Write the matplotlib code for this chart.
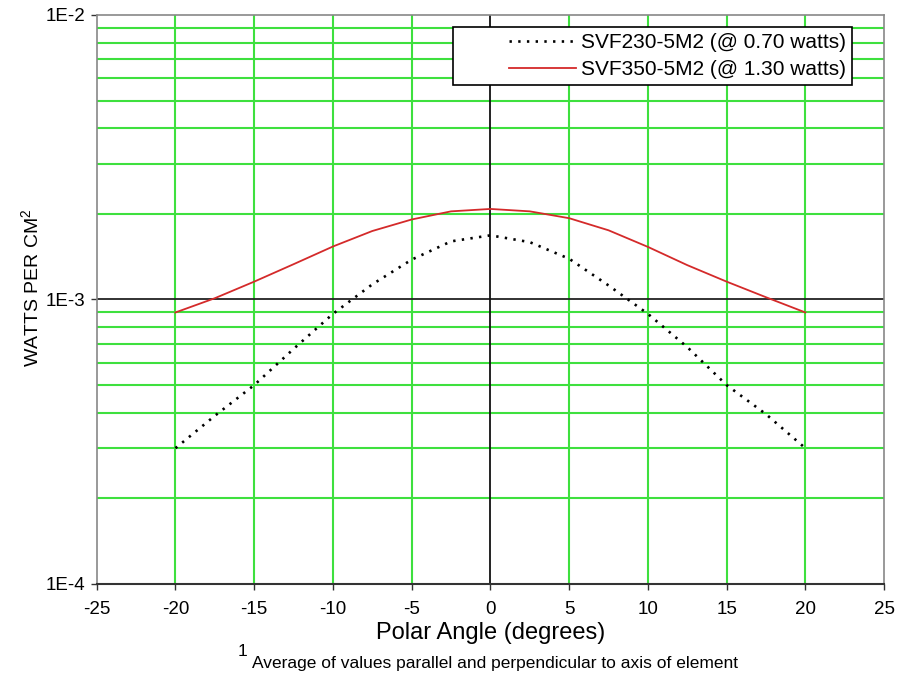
import matplotlib
matplotlib.use("Agg")
import matplotlib.pyplot as plt
from matplotlib.legend_handler import HandlerLine2D
from matplotlib.ticker import FixedLocator, NullFormatter

plt.rcParams["font.family"] = ["Liberation Sans", "DejaVu Sans"]
plt.rcParams["mathtext.default"] = "regular"

# polar angle (degrees)
angles = [-20, -17.5, -15, -12.5, -10, -7.5, -5, -2.5, 0,
          2.5, 5, 7.5, 10, 12.5, 15, 17.5, 20]
# SVF230-5M2 (@ 0.70 watts), W/cm^2
svf230 = [3.0e-4, 3.9e-4, 5.0e-4, 6.7e-4, 8.9e-4, 1.13e-3, 1.38e-3, 1.60e-3, 1.68e-3,
          1.59e-3, 1.39e-3, 1.12e-3, 8.9e-4, 6.8e-4, 5.0e-4, 3.95e-4, 3.0e-4]
# SVF350-5M2 (@ 1.30 watts), W/cm^2
svf350 = [9.0e-4, 1.01e-3, 1.155e-3, 1.33e-3, 1.535e-3, 1.74e-3, 1.91e-3, 2.04e-3, 2.08e-3,
          2.04e-3, 1.93e-3, 1.75e-3, 1.53e-3, 1.32e-3, 1.155e-3, 1.018e-3, 9.0e-4]

x_ticks = [-25, -20, -15, -10, -5, 0, 5, 10, 15, 20, 25]
y_ticks = [1e-4, 1e-3, 1e-2]
y_ticklabels = ["1E-4", "1E-3", "1E-2"]

GREEN = "#3ee03e"

fig = plt.figure(figsize=(9.04, 6.79), dpi=100)
ax = fig.add_axes([0.107, 0.140, 0.871, 0.838])

ax.set_yscale("log")
ax.set_xlim(-25, 25)
ax.set_ylim(1e-4, 1e-2)

# green grid on minor decades and inner x ticks
for dec in (1e-4, 1e-3):
    for m in range(2, 10):
        ax.axhline(m * dec, color=GREEN, lw=1.5, zorder=1)
for xv in x_ticks[1:-1]:
    if xv != 0:
        ax.axvline(xv, color=GREEN, lw=1.5, zorder=1)
ax.axhline(1e-3, color="#222222", lw=1.3, zorder=2)
ax.axvline(0, color="#111111", lw=1.3, zorder=2)

ax.plot(angles, svf230, color="black", lw=1.9, ls=(0, (0.9, 2.4)),
        label="SVF230-5M2 (@ 0.70 watts)", zorder=3)
ax.plot(angles, svf350, color="#d42a2a", lw=1.3,
        label="SVF350-5M2 (@ 1.30 watts)", zorder=3)

ax.xaxis.set_major_locator(FixedLocator(x_ticks))
ax.set_xticklabels([str(v) for v in x_ticks])
ax.yaxis.set_major_locator(FixedLocator(y_ticks))
ax.set_yticklabels(y_ticklabels)
ax.yaxis.set_minor_formatter(NullFormatter())
ax.tick_params(axis="y", which="minor", length=0)
ax.tick_params(axis="both", which="major", direction="out", length=4,
               width=1, color="#333333", labelsize=13.5)
ax.tick_params(axis="x", pad=8)
ax.tick_params(axis="y", pad=4)

for side in ("top", "right", "left"):
    ax.spines[side].set_color("#888888")
    ax.spines[side].set_linewidth(1.2)
ax.spines["bottom"].set_color("#333333")
ax.spines["bottom"].set_linewidth(1.5)

ax.set_xlabel("Polar Angle (degrees)", fontsize=17, labelpad=3)
ax.set_ylabel("WATTS PER CM$^{2}$", fontsize=14, labelpad=3, y=0.52)

fig.text(0.279, 0.0155, "Average of values parallel and perpendicular to axis of element",
         fontsize=12.5, ha="left", va="baseline")
fig.text(0.263, 0.034, "1", fontsize=12.5, ha="left", va="baseline")

leg = ax.legend(loc="upper right", bbox_to_anchor=(0.9595, 0.979), fontsize=15,
                fancybox=False, framealpha=1, edgecolor="black",
                handlelength=5.6, borderpad=0.3, labelspacing=0.38,
                handletextpad=0.25, borderaxespad=0,
                handler_map={plt.Line2D: HandlerLine2D(xpad=2.4)})
leg.get_frame().set_linewidth(1.2)
leg.set_zorder(5)

fig.savefig("out.png", dpi=100)
